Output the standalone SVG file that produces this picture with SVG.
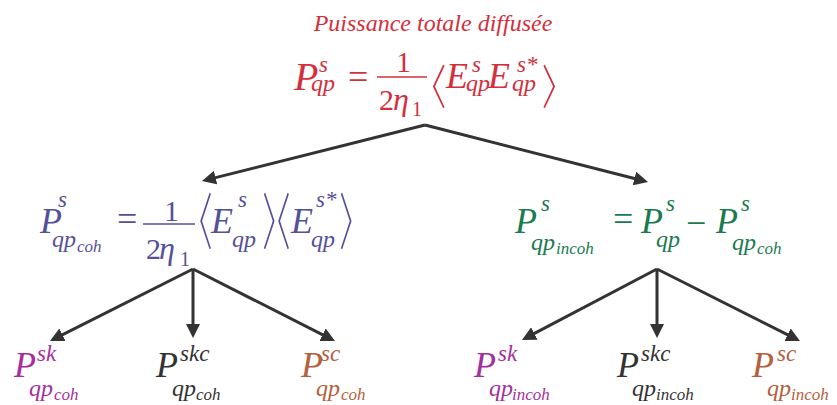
<svg xmlns="http://www.w3.org/2000/svg" width="837" height="405" viewBox="0 0 837 405">
<defs>
<marker id="ah" markerUnits="userSpaceOnUse" markerWidth="14" markerHeight="14" refX="2" refY="7" orient="auto">
<path d="M0,0 L14,7 L0,14 z" fill="#333333"/>
</marker>
</defs>

<g id="connectors" stroke="#333333" stroke-width="3" fill="none" marker-end="url(#ah)">
<line x1="425" y1="125" x2="213.6" y2="178.1"/>
<line x1="425" y1="125" x2="636.4" y2="179"/>
<line x1="193" y1="269" x2="60.7" y2="335.6"/>
<line x1="193" y1="269" x2="193" y2="326"/>
<line x1="193" y1="269" x2="324.3" y2="335.6"/>
<line x1="657" y1="269" x2="532.6" y2="334.4"/>
<line x1="657" y1="269" x2="657" y2="326"/>
<line x1="657" y1="269" x2="789.3" y2="335.6"/>
</g>

<g id="n-total" fill="#d42f3c">
<text font-family="Liberation Serif" font-style="italic" font-size="24" x="433" y="31" text-anchor="middle">Puissance totale diffusée</text>
<text font-family="Liberation Serif" font-style="italic" font-size="40" x="294" y="90">P</text>
<text font-family="Liberation Serif" font-style="italic" font-size="23" x="319" y="72">s</text>
<text font-family="Liberation Serif" font-style="italic" font-size="24" x="311" y="91">qp</text>
<text font-family="Liberation Serif" font-size="36" x="348" y="89">=</text>
<text font-family="Liberation Serif" font-size="30" x="396" y="72">1</text>
<line x1="377" y1="77" x2="427" y2="77" stroke="#d42f3c" stroke-width="1.5"/>
<text font-family="Liberation Serif" font-size="30" x="379" y="110">2</text>
<text font-family="Liberation Serif" font-style="italic" font-size="32" x="393" y="110">η</text>
<text font-family="Liberation Serif" font-size="20" x="412" y="116">1</text>
<text font-family="DejaVu Sans" font-size="49" x="401.6" y="104">〈</text>
<text font-family="Liberation Serif" font-style="italic" font-size="36" x="446" y="88">E</text>
<text font-family="Liberation Serif" font-style="italic" font-size="23" x="472" y="72">s</text>
<text font-family="Liberation Serif" font-style="italic" font-size="24" x="466" y="91">qp</text>
<text font-family="Liberation Serif" font-style="italic" font-size="36" x="488" y="88">E</text>
<text font-family="Liberation Serif" font-style="italic" font-size="23" x="517" y="72">s*</text>
<text font-family="Liberation Serif" font-style="italic" font-size="24" x="512" y="91">qp</text>
<text font-family="DejaVu Sans" font-size="49" x="537" y="104">〉</text>
</g>

<g id="n-coh" fill="#56509a">
<text font-family="Liberation Serif" font-style="italic" font-size="36" x="40" y="233">P</text>
<text font-family="Liberation Serif" font-style="italic" font-size="23" x="58" y="207">s</text>
<text font-family="Liberation Serif" font-style="italic" font-size="24" x="52" y="247">qp</text>
<text font-family="Liberation Serif" font-style="italic" font-size="17" x="77" y="252">coh</text>
<text font-family="Liberation Serif" font-size="36" x="117" y="231">=</text>
<text font-family="Liberation Serif" font-size="30" x="164" y="221">1</text>
<line x1="143" y1="224" x2="195" y2="224" stroke="#56509a" stroke-width="1.5"/>
<text font-family="Liberation Serif" font-size="30" x="146" y="259">2</text>
<text font-family="Liberation Serif" font-style="italic" font-size="32" x="159" y="259">η</text>
<text font-family="Liberation Serif" font-size="20" x="180" y="266">1</text>
<text font-family="DejaVu Sans" font-size="64" transform="translate(172,244) scale(0.7,1)">〈</text>
<text font-family="Liberation Serif" font-style="italic" font-size="36" x="211" y="233">E</text>
<text font-family="Liberation Serif" font-style="italic" font-size="23" x="238" y="207">s</text>
<text font-family="Liberation Serif" font-style="italic" font-size="24" x="232" y="247">qp</text>
<text font-family="DejaVu Sans" font-size="64" transform="translate(257.6,244) scale(0.7,1)">〉</text>
<text font-family="DejaVu Sans" font-size="64" transform="translate(250,244) scale(0.7,1)">〈</text>
<text font-family="Liberation Serif" font-style="italic" font-size="36" x="291" y="233">E</text>
<text font-family="Liberation Serif" font-style="italic" font-size="23" x="316" y="207">s*</text>
<text font-family="Liberation Serif" font-style="italic" font-size="24" x="311" y="247">qp</text>
<text font-family="DejaVu Sans" font-size="64" transform="translate(334.6,244) scale(0.7,1)">〉</text>
</g>

<g id="n-incoh" fill="#1a7a50">
<text font-family="Liberation Serif" font-style="italic" font-size="36" x="515" y="233">P</text>
<text font-family="Liberation Serif" font-style="italic" font-size="23" x="541" y="211">s</text>
<text font-family="Liberation Serif" font-style="italic" font-size="24" x="531" y="250">qp</text>
<text font-family="Liberation Serif" font-style="italic" font-size="17" x="556" y="254">incoh</text>
<text font-family="Liberation Serif" font-size="36" x="613" y="231">=</text>
<text font-family="Liberation Serif" font-style="italic" font-size="36" x="641" y="233">P</text>
<text font-family="Liberation Serif" font-style="italic" font-size="23" x="666" y="211">s</text>
<text font-family="Liberation Serif" font-style="italic" font-size="24" x="656" y="247">qp</text>
<text font-family="Liberation Serif" font-size="36" x="686" y="235">−</text>
<text font-family="Liberation Serif" font-style="italic" font-size="36" x="716" y="233">P</text>
<text font-family="Liberation Serif" font-style="italic" font-size="23" x="741" y="211">s</text>
<text font-family="Liberation Serif" font-style="italic" font-size="24" x="732" y="250">qp</text>
<text font-family="Liberation Serif" font-style="italic" font-size="17" x="757" y="254">coh</text>
</g>

<g id="n-sk-coh" fill="#a4309e">
<text font-family="Liberation Serif" font-style="italic" font-size="36" x="14" y="377">P</text>
<text font-family="Liberation Serif" font-style="italic" font-size="23" x="37" y="361">sk</text>
<text font-family="Liberation Serif" font-style="italic" font-size="24" x="29" y="396">qp</text>
<text font-family="Liberation Serif" font-style="italic" font-size="17" x="54" y="400">coh</text>
</g>
<g id="n-skc-coh" fill="#333333">
<text font-family="Liberation Serif" font-style="italic" font-size="36" x="156" y="377">P</text>
<text font-family="Liberation Serif" font-style="italic" font-size="23" x="180" y="361">skc</text>
<text font-family="Liberation Serif" font-style="italic" font-size="24" x="172" y="396">qp</text>
<text font-family="Liberation Serif" font-style="italic" font-size="17" x="196" y="400">coh</text>
</g>
<g id="n-sc-coh" fill="#b5603c">
<text font-family="Liberation Serif" font-style="italic" font-size="36" x="301" y="377">P</text>
<text font-family="Liberation Serif" font-style="italic" font-size="23" x="321" y="361">sc</text>
<text font-family="Liberation Serif" font-style="italic" font-size="24" x="316" y="396">qp</text>
<text font-family="Liberation Serif" font-style="italic" font-size="17" x="341" y="400">coh</text>
</g>
<g id="n-sk-incoh" fill="#a4309e">
<text font-family="Liberation Serif" font-style="italic" font-size="36" x="474" y="377">P</text>
<text font-family="Liberation Serif" font-style="italic" font-size="23" x="498" y="361">sk</text>
<text font-family="Liberation Serif" font-style="italic" font-size="24" x="489" y="396">qp</text>
<text font-family="Liberation Serif" font-style="italic" font-size="17" x="512" y="400">incoh</text>
</g>
<g id="n-skc-incoh" fill="#333333">
<text font-family="Liberation Serif" font-style="italic" font-size="36" x="617" y="377">P</text>
<text font-family="Liberation Serif" font-style="italic" font-size="23" x="641" y="361">skc</text>
<text font-family="Liberation Serif" font-style="italic" font-size="24" x="632" y="396">qp</text>
<text font-family="Liberation Serif" font-style="italic" font-size="17" x="656" y="400">incoh</text>
</g>
<g id="n-sc-incoh" fill="#b5603c">
<text font-family="Liberation Serif" font-style="italic" font-size="36" x="752" y="377">P</text>
<text font-family="Liberation Serif" font-style="italic" font-size="23" x="777" y="361">sc</text>
<text font-family="Liberation Serif" font-style="italic" font-size="24" x="767" y="396">qp</text>
<text font-family="Liberation Serif" font-style="italic" font-size="17" x="791" y="400">incoh</text>
</g>
</svg>
